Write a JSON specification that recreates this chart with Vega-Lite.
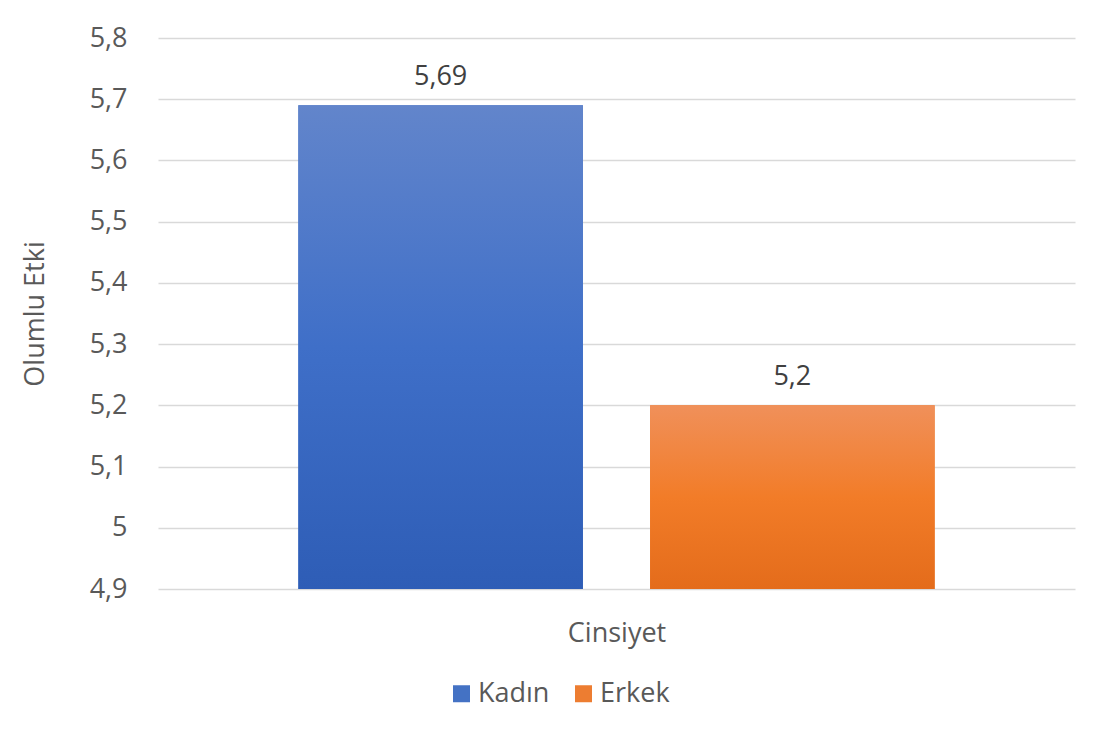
{
  "$schema": "https://vega.github.io/schema/vega-lite/v6.json",
  "width": 917,
  "height": 551,
  "autosize": {"type": "none"},
  "padding": {"left": 158, "top": 38, "right": 24, "bottom": 142},
  "background": "white",
  "config": {
    "font": "Open Sans",
    "view": {"stroke": null},
    "locale": {
      "number": {"decimal": ",", "thousands": ".", "grouping": [3], "currency": ["", " TL"]}
    }
  },
  "data": {
    "values": [
      {"Cinsiyet": "Kadın", "Olumlu Etki": 5.69},
      {"Cinsiyet": "Erkek", "Olumlu Etki": 5.2}
    ]
  },
  "encoding": {
    "x": {
      "field": "Cinsiyet",
      "type": "nominal",
      "sort": ["Kadın", "Erkek"],
      "scale": {"paddingInner": 0.191, "paddingOuter": 0.399},
      "axis": {
        "labels": false,
        "ticks": false,
        "domain": false,
        "title": "Cinsiyet",
        "titleFontSize": 27,
        "titleFontWeight": "normal",
        "titleColor": "#595959",
        "titleY": 52,
        "titleBaseline": "alphabetic"
      }
    },
    "y": {
      "field": "Olumlu Etki",
      "type": "quantitative",
      "scale": {"domain": [4.9, 5.8], "zero": false, "nice": false},
      "axis": {
        "values": [4.9, 5.0, 5.1, 5.2, 5.3, 5.4, 5.5, 5.6, 5.7, 5.8],
        "format": ".1~f",
        "labelFontSize": 27,
        "labelColor": "#595959",
        "labelPadding": 31,
        "ticks": false,
        "domain": false,
        "grid": true,
        "gridColor": "#d9d9d9",
        "gridWidth": 1.5,
        "title": "Olumlu Etki",
        "titleFontSize": 27,
        "titleFontWeight": "normal",
        "titleColor": "#595959",
        "titleAngle": 270,
        "titleX": -123,
        "titleY": 275.5,
        "titleAlign": "center",
        "titleBaseline": "middle"
      }
    }
  },
  "layer": [
    {
      "mark": {"type": "bar"},
      "encoding": {
        "y2": {"datum": 4.9},
        "color": {
          "field": "Cinsiyet",
          "type": "nominal",
          "scale": {"domain": ["Kadın", "Erkek"], "range": ["#4472C4", "#ED7D31"]},
          "legend": {
            "title": null,
            "orient": "none",
            "direction": "horizontal",
            "legendX": 290,
            "legendY": 642,
            "symbolType": "square",
            "symbolSize": 289,
            "symbolStrokeWidth": 0,
            "labelFontSize": 27,
            "labelColor": "#595959",
            "labelOffset": 3,
            "columnPadding": 20,
            "encode": {
              "symbols": {
                "update": {
                  "fill": [
                    {"test": "datum.value === 'Kadın'",
                     "value": {"gradient": "linear", "x1": 0, "y1": 0, "x2": 0, "y2": 1,
                               "stops": [{"offset": 0, "color": "#6285CB"}, {"offset": 1, "color": "#2E5DB6"}]}},
                    {"value": {"gradient": "linear", "x1": 0, "y1": 0, "x2": 0, "y2": 1,
                               "stops": [{"offset": 0, "color": "#F0905A"}, {"offset": 1, "color": "#E46C1B"}]}}
                  ]
                }
              }
            }
          }
        }
      }
    },
    {
      "mark": {"type": "bar"},
      "encoding": {
        "y2": {"datum": 4.9},
        "fill": {
          "condition": {
            "test": "datum['Cinsiyet'] === 'Kadın'",
            "value": {"gradient": "linear", "x1": 0, "y1": 0, "x2": 0, "y2": 1,
                      "stops": [{"offset": 0, "color": "#6285CB"}, {"offset": 0.5, "color": "#3F6FC8"}, {"offset": 1, "color": "#2E5DB6"}]}
          },
          "value": {"gradient": "linear", "x1": 0, "y1": 0, "x2": 0, "y2": 1,
                    "stops": [{"offset": 0, "color": "#F0905A"}, {"offset": 0.5, "color": "#F27C28"}, {"offset": 1, "color": "#E46C1B"}]}
        }
      }
    },
    {
      "mark": {"type": "text", "baseline": "alphabetic", "dy": -20, "fontSize": 27, "color": "#404040"},
      "encoding": {
        "text": {"field": "Olumlu Etki", "type": "quantitative", "format": ".2~f"}
      }
    }
  ]
}
